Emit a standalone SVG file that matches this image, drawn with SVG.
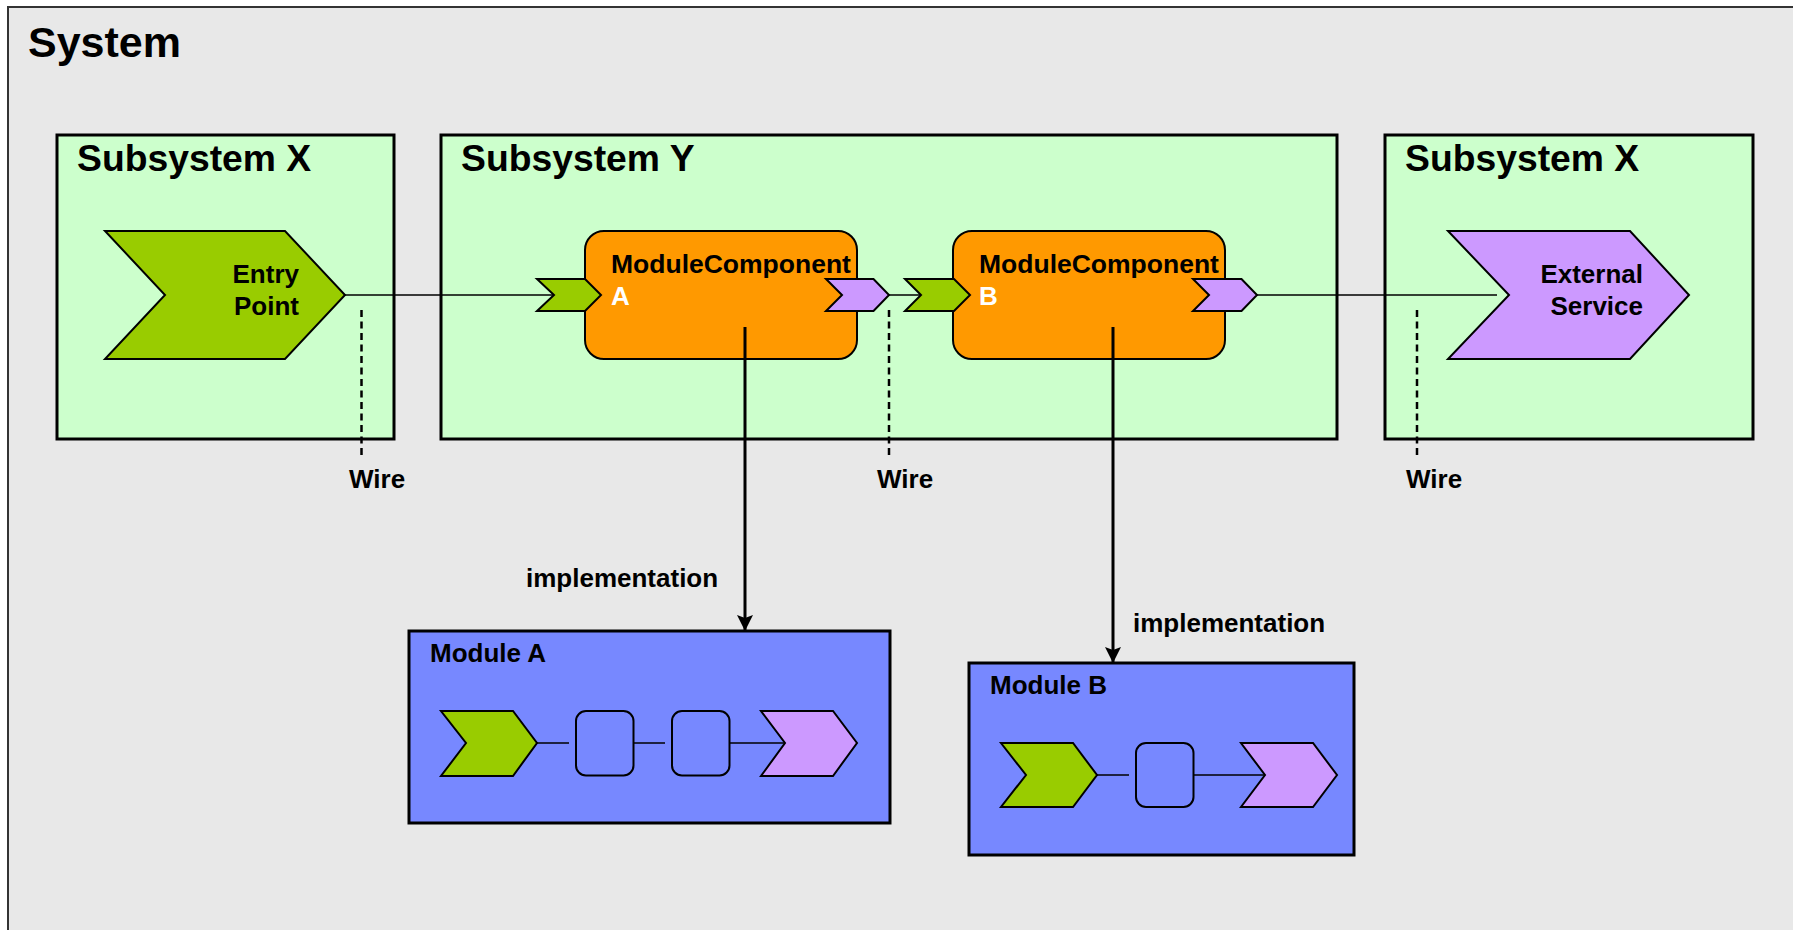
<svg xmlns="http://www.w3.org/2000/svg" width="1793" height="930" viewBox="0 0 1793 930">
  <defs>
    <style>
      text { font-family: "Liberation Sans", Arial, sans-serif; font-weight: bold; fill: #000; }
      .title { font-size: 43px; }
      .sub { font-size: 37.3px; }
      .lbl { font-size: 26px; }
      .mc { font-size: 26.5px; }
      .white { fill: #fff; }
      .end { text-anchor: end; }
      .subsys { fill: #CCFFCC; stroke: #000; stroke-width: 3; }
      .module { fill: #7788FF; stroke: #000; stroke-width: 3; }
      .comp { fill: #FF9900; stroke: #000; stroke-width: 2; }
      .svc { fill: #99CC00; stroke: #000; stroke-width: 2; stroke-linejoin: miter; }
      .ref { fill: #CC99FF; stroke: #000; stroke-width: 2; stroke-linejoin: miter; }
      .inner { fill: #7788FF; stroke: #000; stroke-width: 2; }
      .wire { stroke: #000; stroke-width: 1.5; fill: none; }
      .dash { stroke: #000; stroke-width: 2.5; stroke-dasharray: 7 4.5; fill: none; }
      .impl { stroke: #000; stroke-width: 3; fill: none; marker-end: url(#arrow); }
    </style>
    <marker id="arrow" viewBox="0 0 16 16" refX="16" refY="8" markerWidth="16" markerHeight="16" markerUnits="userSpaceOnUse" orient="auto">
      <path d="M0,0 L16,8 L0,16 L3,8 Z" fill="#000"/>
    </marker>
  </defs>

  <!-- outer system frame -->
  <g id="system">
    <rect x="8" y="7" width="1800" height="940" fill="#E8E8E8" stroke="#333" stroke-width="2"/>
    <text class="title" x="28" y="57">System</text>
  </g>

  <!-- subsystems -->
  <g id="subsystem-x-left">
    <rect class="subsys" x="57" y="135" width="337" height="304"/>
    <text class="sub" x="77" y="171">Subsystem X</text>
  </g>
  <g id="subsystem-y">
    <rect class="subsys" x="441" y="135" width="896" height="304"/>
    <text class="sub" x="461" y="171">Subsystem Y</text>
  </g>
  <g id="subsystem-x-right">
    <rect class="subsys" x="1385" y="135" width="368" height="304"/>
    <text class="sub" x="1405" y="171">Subsystem X</text>
  </g>

  <!-- entry point -->
  <g id="entry-point">
    <polygon class="svc" points="105,231 285,231 345,295 285,359 105,359 165,295"/>
    <text class="lbl end" x="299" y="283">Entry</text>
    <text class="lbl end" x="299" y="315">Point</text>
  </g>

  <!-- external service -->
  <g id="external-service">
    <polygon class="ref" points="1448,231 1630,231 1689,295 1630,359 1448,359 1509,295"/>
    <text class="lbl end" x="1643" y="283">External</text>
    <text class="lbl end" x="1643" y="315">Service</text>
  </g>

  <!-- module component A -->
  <g id="module-component-a">
    <rect class="comp" x="585" y="231" width="272" height="128" rx="19" ry="19"/>
    <polygon class="svc" points="537,279 585,279 601,295 585,311 537,311 554,295"/>
    <polygon class="ref" points="826,279 873.5,279 889,295 873.5,311 826,311 842,295"/>
    <text class="mc" x="611" y="273">ModuleComponent</text>
    <text class="lbl white" x="611" y="305">A</text>
  </g>

  <!-- module component B -->
  <g id="module-component-b">
    <rect class="comp" x="953" y="231" width="272" height="128" rx="19" ry="19"/>
    <polygon class="svc" points="905,279 954,279 970,295 954,311 905,311 921,295"/>
    <polygon class="ref" points="1193,279 1241.5,279 1257,295 1241.5,311 1193,311 1209,295"/>
    <text class="mc" x="979" y="273">ModuleComponent</text>
    <text class="lbl white" x="979" y="305">B</text>
  </g>

  <!-- module A -->
  <g id="module-a">
    <rect class="module" x="409" y="631" width="481" height="192"/>
    <text class="lbl" x="430" y="662">Module A</text>
    <line class="wire" x1="537" y1="743" x2="569" y2="743"/>
    <line class="wire" x1="633" y1="743" x2="665" y2="743"/>
    <line class="wire" x1="729" y1="743" x2="785" y2="743"/>
    <polygon class="svc" points="441,711 513,711 537,743 513,776 441,776 466,743"/>
    <rect class="inner" x="576" y="711" width="57.5" height="64.5" rx="10" ry="10"/>
    <rect class="inner" x="672" y="711" width="57.5" height="64.5" rx="10" ry="10"/>
    <polygon class="ref" points="761,711 833,711 857,743 833,776 761,776 785,743"/>
  </g>

  <!-- module B -->
  <g id="module-b">
    <rect class="module" x="969" y="663" width="385" height="192"/>
    <text class="lbl" x="990" y="694">Module B</text>
    <line class="wire" x1="1097" y1="775" x2="1129" y2="775"/>
    <line class="wire" x1="1193" y1="775" x2="1265" y2="775"/>
    <polygon class="svc" points="1001,743 1073,743 1097,775 1073,807 1001,807 1026,775"/>
    <rect class="inner" x="1136" y="743" width="57.5" height="64" rx="10" ry="10"/>
    <polygon class="ref" points="1241,743 1313,743 1337,775 1313,807 1241,807 1265,775"/>
  </g>

  <!-- wires, wire callouts and implementation links -->
  <g id="connectors">
    <line class="wire" x1="345" y1="295" x2="554" y2="295"/>
    <line class="wire" x1="889" y1="295" x2="921" y2="295"/>
    <line class="wire" x1="1257" y1="295" x2="1497" y2="295"/>
    <line class="dash" x1="361.5" y1="310" x2="361.5" y2="456"/>
    <line class="dash" x1="889" y1="310" x2="889" y2="456"/>
    <line class="dash" x1="1417" y1="310" x2="1417" y2="456"/>
    <line class="impl" x1="745" y1="327" x2="745" y2="631"/>
    <line class="impl" x1="1113" y1="327" x2="1113" y2="663"/>
    <text class="lbl" x="349" y="488">Wire</text>
    <text class="lbl" x="877" y="488">Wire</text>
    <text class="lbl" x="1406" y="488">Wire</text>
    <text class="lbl" x="526" y="587">implementation</text>
    <text class="lbl" x="1133" y="632">implementation</text>
  </g>
</svg>
